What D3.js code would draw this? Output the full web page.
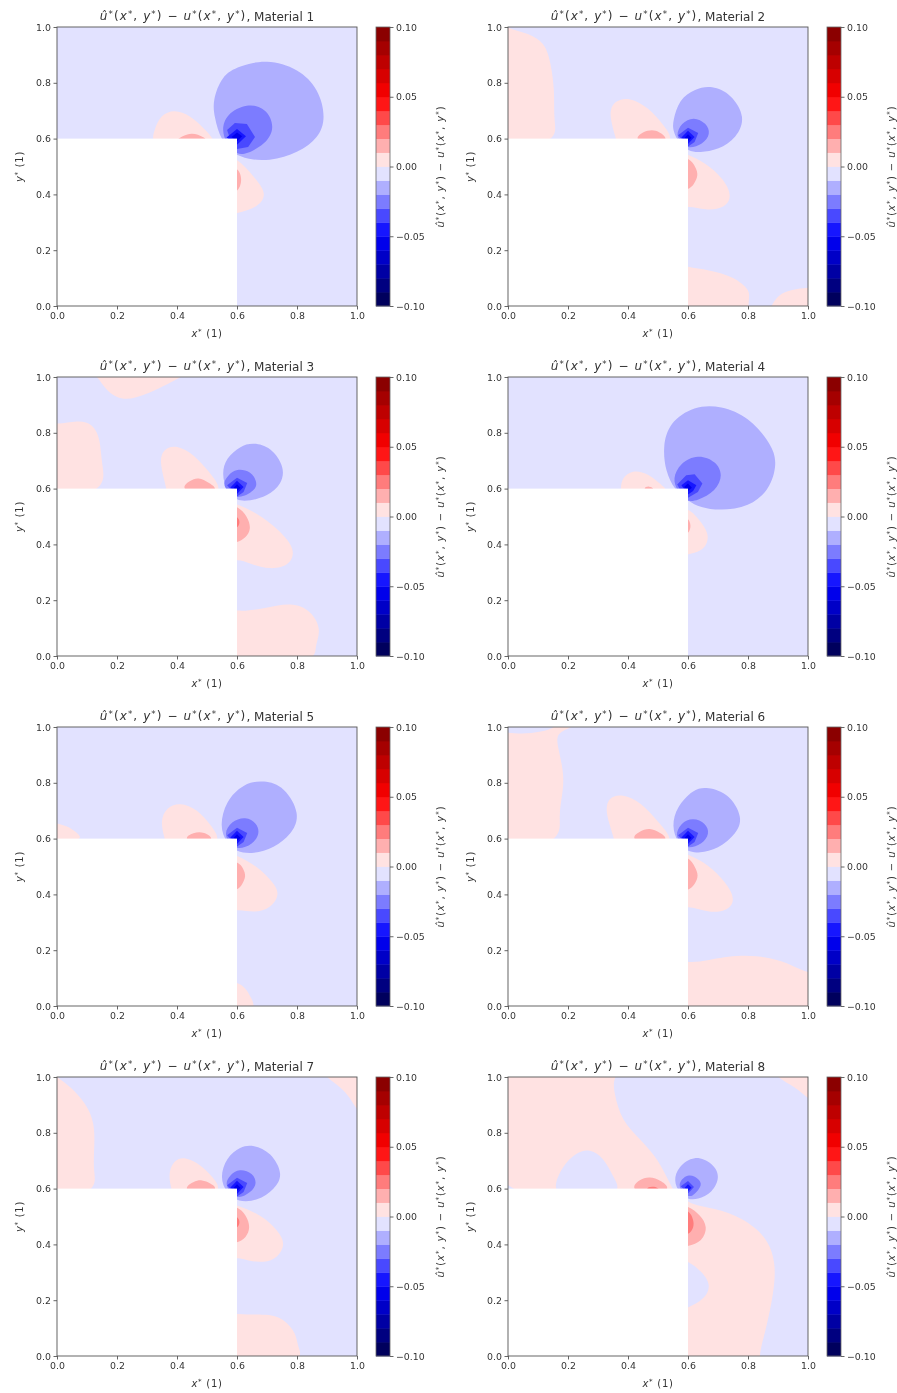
<!DOCTYPE html>
<html>
<head>
  <title>Material error maps</title>
  <script src="https://d3js.org/d3.v7.min.js"></script>
  <style>
    body { margin: 0; background: #fff; }
    svg { display: block; filter: blur(0.55px); }
    text { font-family: "DejaVu Sans", sans-serif; fill: #333; }
  </style>
</head>
<body>
<script>
// colorbar bands (lower edge), width 0.01
var bandEdges = [-0.10, -0.09, -0.08, -0.07, -0.06, -0.05, -0.04, -0.03, -0.02, -0.01,
                 0.00, 0.01, 0.02, 0.03, 0.04, 0.05, 0.06, 0.07, 0.08, 0.09];
var axisTicks = [0, 0.2, 0.4, 0.6, 0.8, 1.0];
var barTicks = [-0.10, -0.05, 0.00, 0.05, 0.10];
var materialNames = ["Material 1", "Material 2", "Material 3", "Material 4",
                     "Material 5", "Material 6", "Material 7", "Material 8"];

// contour regions: [band value, [[x, y], ...]], drawn in order
var core35 = [[.567,.612],[.6,.639],[.634,.62],[.622,.588],[.6,.572]];
var core45 = [[.578,.604],[.6,.628],[.622,.606],[.6,.581]];
var core55 = [[.589,.603],[.6,.616],[.612,.603],[.6,.591]];

var material1 = [
  [0.005, [[.328,.632],[.348,.68],[.392,.70],[.443,.68],[.487,.638],[.52,.596],[.5,.57],[.33,.57]]],
  [0.015, [[.409,.602],[.448,.62],[.487,.605],[.5,.58],[.4,.58]]],
  [0.005, [[.6,.524],[.654,.464],[.693,.404],[.665,.356],[.6,.336],[.55,.34],[.55,.52]]],
  [0.015, [[.6,.494],[.615,.452],[.6,.41],[.56,.41],[.56,.49]]],
  [-0.015, [[.553,.82],[.61,.857],[.7,.878],[.8,.846],[.867,.774],[.89,.677],[.867,.606],[.8,.552],[.71,.523],[.61,.534],[.55,.595],[.527,.677],[.523,.738]]],
  [-0.025, [[.553,.631],[.57,.685],[.633,.72],[.693,.703],[.72,.642],[.693,.584],[.633,.548],[.6,.548],[.567,.584]]],
  [-0.035, [[.567,.631],[.593,.656],[.633,.652],[.66,.606],[.637,.57],[.6,.563],[.58,.59]]],
  [-0.045, [[.565,.604],[.6,.634],[.63,.608],[.6,.578]]],
  [-0.055, [[.582,.606],[.6,.622],[.617,.608],[.6,.59]]]
];

var material2 = [
  [0.005, [[0,.99],[.067,.976],[.117,.94],[.139,.88],[.154,.773],[.151,.665],[.145,.594],[-.05,.59],[-.05,.99]]],
  [0.005, [[.362,.6],[.34,.683],[.357,.731],[.407,.743],[.468,.707],[.513,.653],[.544,.6],[.5,.57],[.38,.57]]],
  [0.015, [[.424,.6],[.468,.63],[.502,.624],[.53,.596],[.48,.57]]],
  [0.005, [[.6,.54],[.658,.51],[.714,.456],[.741,.397],[.719,.355],[.658,.345],[.6,.361],[.55,.36],[.55,.54]]],
  [0.015, [[.6,.528],[.624,.498],[.632,.468],[.619,.438],[.6,.42],[.55,.42],[.55,.53]]],
  [0.005, [[.6,.137],[.669,.128],[.747,.104],[.803,.056],[.797,.014],[.78,-.03],[.55,-.03],[.55,.137]]],
  [0.005, [[.881,0],[.903,.038],[.947,.058],[1.003,.064],[1.05,.06],[1.05,-.03],[.88,-.03]]],
  [-0.015, [[.552,.665],[.574,.737],[.624,.775],[.68,.785],[.741,.755],[.784,.677],[.758,.606],[.702,.564],[.641,.552],[.602,.558],[.569,.588],[.552,.63]]],
  [-0.025, [[.563,.612],[.58,.653],[.619,.674],[.658,.653],[.671,.618],[.647,.582],[.602,.567],[.58,.588]]],
  [-0.035, core35], [-0.045, core45], [-0.055, core55]
];

var material3 = [
  [0.005, [[.139,1.0],[.167,.952],[.222,.919],[.3,.94],[.4,.994],[.42,1.03],[.13,1.03]]],
  [0.005, [[0,.827],[.067,.842],[.117,.827],[.142,.773],[.147,.689],[.144,.594],[-.05,.59],[-.05,.82]]],
  [0.005, [[.367,.6],[.344,.695],[.361,.74],[.4,.751],[.456,.719],[.506,.659],[.542,.6],[.5,.57],[.38,.57]]],
  [0.015, [[.42,.6],[.444,.627],[.472,.638],[.506,.62],[.531,.596],[.48,.57]]],
  [0.005, [[.6,.54],[.667,.51],[.739,.45],[.787,.384],[.772,.331],[.711,.313],[.644,.331],[.6,.349],[.55,.35],[.55,.54]]],
  [0.015, [[.6,.534],[.633,.498],[.644,.456],[.628,.426],[.6,.409],[.55,.41],[.55,.53]]],
  [0.025, [[.6,.498],[.609,.48],[.6,.46],[.58,.46],[.58,.5]]],
  [0.005, [[.6,.158],[.689,.17],[.778,.187],[.844,.158],[.876,.092],[.856,.032],[.833,-.02],[.55,-.02],[.55,.158]]],
  [-0.015, [[.553,.653],[.567,.707],[.611,.749],[.656,.761],[.711,.743],[.753,.677],[.744,.618],[.7,.576],[.644,.558],[.6,.56],[.567,.594]]],
  [-0.025, [[.556,.618],[.572,.647],[.6,.668],[.644,.659],[.664,.624],[.656,.594],[.606,.567],[.572,.588]]],
  [-0.035, core35], [-0.045, core45], [-0.055, core55]
];

var material4 = [
  [0.005, [[.378,.6],[.383,.636],[.417,.662],[.467,.651],[.517,.606],[.522,.6],[.5,.57],[.39,.57]]],
  [0.015, [[.453,.6],[.47,.608],[.487,.598],[.47,.58]]],
  [0.005, [[.6,.524],[.633,.492],[.667,.438],[.656,.39],[.622,.37],[.6,.367],[.55,.367],[.55,.524]]],
  [0.015, [[.6,.492],[.609,.466],[.6,.44],[.58,.44],[.58,.49]]],
  [-0.015, [[.52,.749],[.544,.833],[.622,.89],[.711,.892],[.8,.851],[.872,.761],[.892,.689],[.867,.6],[.8,.54],[.711,.524],[.644,.534],[.6,.558],[.556,.6],[.528,.665]]],
  [-0.025, [[.553,.636],[.578,.689],[.633,.717],[.689,.695],[.711,.648],[.689,.594],[.633,.56],[.594,.558],[.567,.594]]],
  [-0.035, [[.564,.615],[.594,.648],[.622,.651],[.648,.618],[.633,.588],[.6,.567],[.578,.588]]],
  [-0.045, [[.578,.612],[.6,.63],[.628,.612],[.617,.591],[.6,.579]]],
  [-0.055, [[.587,.606],[.6,.618],[.613,.603],[.6,.591]]]
];

var material5 = [
  [0.005, [[0,.653],[.033,.644],[.061,.624],[.078,.594],[-.05,.59],[-.05,.66]]],
  [0.005, [[.361,.6],[.348,.659],[.367,.707],[.411,.725],[.467,.701],[.511,.648],[.537,.6],[.5,.57],[.38,.57]]],
  [0.015, [[.428,.6],[.456,.62],[.489,.622],[.52,.596],[.47,.57]]],
  [0.005, [[.6,.536],[.667,.498],[.717,.444],[.737,.402],[.711,.355],[.656,.337],[.6,.349],[.55,.35],[.55,.536]]],
  [0.015, [[.6,.516],[.62,.492],[.628,.465],[.617,.438],[.6,.417],[.55,.417],[.55,.516]]],
  [0.005, [[.6,.082],[.628,.062],[.644,.032],[.656,-.02],[.55,-.02],[.55,.082]]],
  [-0.015, [[.547,.647],[.567,.731],[.622,.791],[.689,.805],[.756,.779],[.803,.689],[.778,.618],[.722,.57],[.656,.548],[.6,.556],[.567,.588]]],
  [-0.025, [[.561,.618],[.583,.659],[.628,.675],[.663,.653],[.672,.618],[.65,.582],[.606,.564],[.578,.582]]],
  [-0.035, core35], [-0.045, core45], [-0.055, core55]
];

var material6 = [
  [0.005, [[.211,1.0],[.167,.976],[.167,.928],[.183,.845],[.183,.773],[.167,.677],[.158,.594],[-.05,.59],[-.05,1.03],[.22,1.03]]],
  [-0.005, [[0,.982],[.044,.975],[.111,.984],[.15,.998],[.16,1.03],[-.05,1.03],[-.05,.98]]],
  [0.005, [[.356,.6],[.328,.689],[.339,.743],[.383,.755],[.444,.725],[.5,.659],[.542,.6],[.5,.57],[.37,.57]]],
  [0.015, [[.417,.6],[.439,.624],[.472,.636],[.506,.62],[.529,.596],[.47,.57]]],
  [0.005, [[.6,.54],[.667,.504],[.722,.444],[.752,.385],[.728,.345],[.667,.337],[.6,.361],[.55,.36],[.55,.54]]],
  [0.015, [[.6,.53],[.622,.498],[.633,.468],[.622,.438],[.6,.417],[.55,.417],[.55,.53]]],
  [0.005, [[.6,.154],[.667,.164],[.778,.182],[.878,.17],[.944,.146],[1.0,.118],[1.05,.1],[1.05,-.03],[.55,-.03],[.55,.154]]],
  [-0.015, [[.55,.647],[.567,.713],[.617,.771],[.667,.781],[.733,.755],[.776,.677],[.756,.618],[.7,.567],[.639,.551],[.6,.556],[.567,.588]]],
  [-0.025, [[.561,.612],[.578,.653],[.617,.671],[.656,.653],[.668,.618],[.644,.582],[.6,.567],[.578,.588]]],
  [-0.035, core35], [-0.045, core45], [-0.055, core55]
];

var material7 = [
  [0.005, [[0,.994],[.044,.964],[.094,.904],[.122,.833],[.124,.749],[.12,.665],[.117,.594],[-.05,.59],[-.05,1.0]]],
  [0.005, [[.9,1],[.944,.964],[.978,.922],[1,.886],[1.05,.85],[1.05,1.05],[.88,1.05]]],
  [0.005, [[.383,.6],[.374,.647],[.389,.695],[.428,.71],[.478,.683],[.517,.642],[.54,.6],[.5,.57],[.4,.57]]],
  [0.015, [[.428,.6],[.456,.624],[.483,.63],[.511,.618],[.531,.596],[.47,.57]]],
  [0.005, [[.6,.536],[.678,.504],[.733,.45],[.756,.402],[.733,.355],[.689,.337],[.633,.343],[.6,.355],[.55,.355],[.55,.536]]],
  [0.015, [[.6,.532],[.628,.504],[.642,.462],[.628,.426],[.6,.409],[.55,.409],[.55,.532]]],
  [0.025, [[.6,.498],[.609,.48],[.6,.46],[.58,.46],[.58,.5]]],
  [0.005, [[.6,.146],[.7,.149],[.756,.128],[.794,.08],[.8,.032],[.798,-.02],[.55,-.02],[.55,.146]]],
  [-0.015, [[.548,.642],[.567,.707],[.611,.747],[.656,.753],[.711,.725],[.747,.653],[.722,.6],[.667,.56],[.606,.556],[.567,.588]]],
  [-0.025, [[.564,.618],[.578,.647],[.609,.668],[.65,.653],[.663,.618],[.644,.588],[.606,.567],[.578,.588]]],
  [-0.035, core35], [-0.045, core45], [-0.055, core55]
];

var material8 = [
  [0.005, [[.35,1.0],[.356,.94],[.383,.845],[.444,.773],[.5,.701],[.533,.63],[.542,.6],[.5,.57],[-.05,.57],[-.05,1.05],[.35,1.05]]],
  [-0.005, [[.156,.6],[.183,.677],[.228,.725],[.272,.737],[.317,.707],[.35,.642],[.367,.594],[.3,.57],[.2,.57]]],
  [0.015, [[.417,.6],[.439,.63],[.472,.641],[.509,.627],[.536,.596],[.47,.57]]],
  [0.025, [[.461,.6],[.483,.608],[.506,.597],[.48,.58]]],
  [0.005, [[.6,.54],[.689,.528],[.778,.492],[.856,.426],[.889,.331],[.883,.223],[.861,.104],[.833,-.004],[.82,-.04],[.55,-.04],[.55,.54]]],
  [-0.005, [[.6,.337],[.644,.301],[.672,.253],[.65,.205],[.6,.176],[.55,.176],[.55,.337]]],
  [0.015, [[.6,.534],[.639,.504],[.661,.462],[.644,.414],[.6,.397],[.55,.397],[.55,.534]]],
  [0.025, [[.6,.522],[.617,.486],[.617,.462],[.6,.436],[.55,.436],[.55,.522]]],
  [0.005, [[.9,1],[.956,.964],[1,.926],[1.05,.9],[1.05,1.05],[.88,1.05]]],
  [-0.015, [[.556,.63],[.572,.677],[.622,.713],[.678,.689],[.702,.642],[.678,.588],[.633,.564],[.6,.564],[.572,.588]]],
  [-0.025, [[.567,.612],[.6,.65],[.633,.635],[.644,.612],[.622,.582],[.6,.572]]],
  [-0.035, [[.576,.608],[.6,.627],[.62,.606],[.6,.582]]],
  [-0.045, core55]
];

var materials = [material1, material2, material3, material4,
                 material5, material6, material7, material8];

// layout
var colLeft = [57, 508],
    rowTop = [27, 377, 727, 1077],
    width = 300,
    height = 279,
    barOffset = 319,
    barWidth = 14;

// matplotlib "seismic"
var seismic = d3.scaleLinear()
    .domain([-0.1, -0.05, 0, 0.05, 0.1])
    .range(["#00004d", "#0000ff", "#ffffff", "#ff0000", "#800000"]);

// the screenshot comes out a little deeper than the plain colormap near zero
function bandColor(v) {
  return seismic(v + (v < 0 ? -0.0006 : 0.0006));
}

var xScale = d3.scaleLinear().domain([0, 1]).range([0, width]);
var yScale = d3.scaleLinear().domain([0, 1]).range([height, 0]);
var barScale = d3.scaleLinear().domain([-0.1, 0.1]).range([height, 0]);

// basis curves pull in from their control points, so push the points out a bit first
function pushOut(pts) {
  return pts.map(function(p, i) {
    var a = pts[(i + pts.length - 1) % pts.length],
        b = pts[(i + 1) % pts.length];
    return [p[0] + (p[0] - (a[0] + b[0]) / 2) * 0.27,
            p[1] + (p[1] - (a[1] + b[1]) / 2) * 0.27];
  });
}

var smooth = d3.line()
    .x(function(d) { return xScale(d[0]); })
    .y(function(d) { return yScale(d[1]); })
    .curve(d3.curveBasisClosed);
var faceted = d3.line()
    .x(function(d) { return xScale(d[0]); })
    .y(function(d) { return yScale(d[1]); })
    .curve(d3.curveLinearClosed);

var svg = d3.select("body").append("svg")
    .attr("width", 897)
    .attr("height", 1393);

var defs = svg.append("defs");
defs.append("clipPath").attr("id", "plot-clip")
  .append("rect").attr("width", width).attr("height", height);

// italic letters and raised stars for the mathtext labels
function mathText(sel, str, spacing) {
  var raised = false;
  str.split("").forEach(function(ch) {
    var t = sel.append("tspan").text(ch).attr("letter-spacing", spacing);
    if (ch === "*") {
      t.attr("dy", "-0.35em").attr("font-size", "0.72em");
      raised = true;
    } else {
      if (raised) t.attr("dy", "0.25em");
      raised = false;
      if ("ûuxy".indexOf(ch) >= 0) t.attr("font-style", "italic");
    }
  });
}

function styleAxis(g) {
  g.select(".domain").remove();
  g.selectAll(".tick line").attr("stroke", "#555").attr("stroke-width", 0.9);
  g.selectAll(".tick text").attr("font-size", 9.4).attr("fill", "#333")
    .attr("font-family", '"DejaVu Sans", sans-serif');
}

var errorLabel = "û*(x*, y*) − u*(x*, y*)";

materials.forEach(function(regions, i) {
  var g = svg.append("g")
      .attr("transform", "translate(" + colLeft[i % 2] + "," + rowTop[Math.floor(i / 2)] + ")");

  var plot = g.append("g").attr("clip-path", "url(#plot-clip)");

  // lowest band fills the whole square
  plot.append("rect")
      .attr("width", width)
      .attr("height", height)
      .attr("fill", bandColor(-0.005));

  plot.selectAll("path")
    .data(regions)
    .enter().append("path")
      .attr("d", function(d) { return d[0] <= -0.035 ? faceted(d[1]) : smooth(pushOut(d[1])); })
      .attr("fill", function(d) { return bandColor(d[0]); });

  // the part of the domain without a solution
  plot.append("rect")
      .attr("x", xScale(0))
      .attr("y", yScale(0.6))
      .attr("width", xScale(0.6) - xScale(0))
      .attr("height", yScale(0) - yScale(0.6))
      .attr("fill", "#fff");

  g.append("rect")
      .attr("width", width)
      .attr("height", height)
      .attr("fill", "none")
      .attr("stroke", "#555")
      .attr("stroke-width", 0.9);

  g.append("g")
      .attr("transform", "translate(0," + height + ")")
      .call(d3.axisBottom(xScale).tickValues(axisTicks).tickFormat(d3.format(".1f")).tickSize(3.5).tickPadding(2.5))
      .call(styleAxis);
  g.append("g")
      .call(d3.axisLeft(yScale).tickValues(axisTicks).tickFormat(d3.format(".1f")).tickSize(3.5).tickPadding(2.5))
      .call(styleAxis);

  var title = g.append("text")
      .attr("x", width / 2)
      .attr("y", -7)
      .attr("text-anchor", "middle")
      .attr("font-size", 12);
  mathText(title, "û*(x*, y*) − u*(x*, y*)", 1.1);
  title.append("tspan").attr("dy", "0.1em").text(", " + materialNames[i]);

  var xLabel = g.append("text")
      .attr("x", width / 2)
      .attr("y", 310)
      .attr("text-anchor", "middle")
      .attr("font-size", 10);
  mathText(xLabel, "x* (1)", 0.7);

  var yLabel = g.append("text")
      .attr("transform", "translate(-34," + height / 2 + ") rotate(-90)")
      .attr("text-anchor", "middle")
      .attr("font-size", 10);
  mathText(yLabel, "y* (1)", 0.7);

  // colorbar
  var bar = g.append("g").attr("transform", "translate(" + barOffset + ",0)");

  bar.selectAll("rect.band")
    .data(bandEdges)
    .enter().append("rect")
      .attr("class", "band")
      .attr("width", barWidth)
      .attr("y", function(d) { return barScale(d + 0.01); })
      .attr("height", function(d) { return barScale(d) - barScale(d + 0.01) + 0.4; })
      .attr("fill", function(d) { return bandColor(d + 0.005); });

  bar.append("rect")
      .attr("width", barWidth)
      .attr("height", height)
      .attr("fill", "none")
      .attr("stroke", "#666")
      .attr("stroke-width", 0.8);

  bar.append("g")
      .attr("transform", "translate(" + barWidth + ",0)")
      .call(d3.axisRight(barScale).tickValues(barTicks).tickFormat(d3.format(".2f")).tickSize(3.5).tickPadding(2.5))
      .call(styleAxis);

  var barLabel = bar.append("text")
      .attr("transform", "translate(68," + height / 2 + ") rotate(-90)")
      .attr("text-anchor", "middle")
      .attr("font-size", 10);
  mathText(barLabel, errorLabel, 0.9);
});
</script>
</body>
</html>
